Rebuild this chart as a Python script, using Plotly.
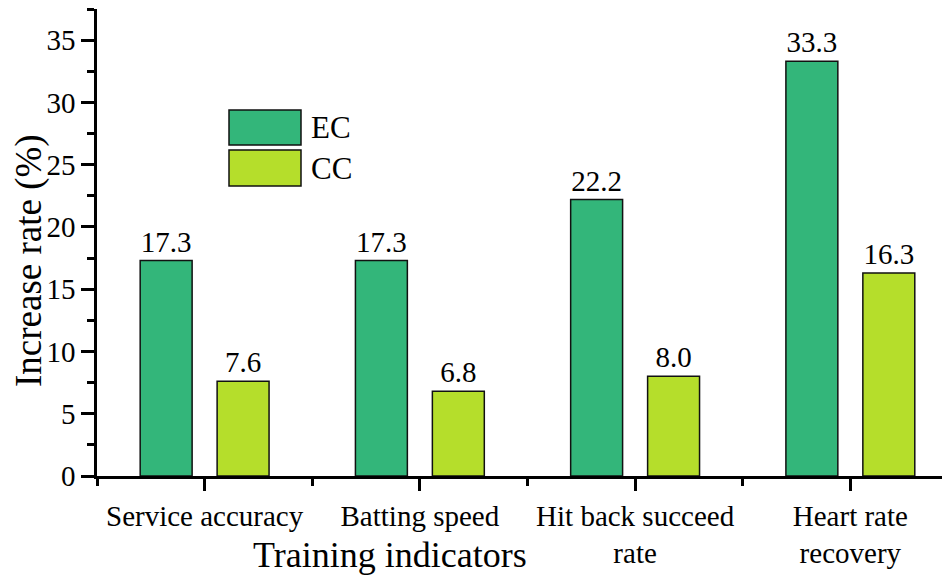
import plotly.graph_objects as go

categories = ["Service accuracy", "Batting speed", "Hit back succeed<br>rate", "Heart rate<br>recovery"]
ec_values = [17.3, 17.3, 22.2, 33.3]
cc_values = [7.6, 6.8, 8.0, 16.3]
series_names = ["EC", "CC"]
colors = ["#33B67A", "#B5DE2B"]
y_ticks = [0, 5, 10, 15, 20, 25, 30, 35]

FONT = "Liberation Serif"
x_pos = list(range(len(categories)))

# the page body adds an 8px offset, so the figure is 8px smaller on each axis
W, H = 942, 569
L, T, B = 89, 1, 101
PW, PH = W - L, H - T - B  # 853 x 467

fig = go.Figure()
for name, vals, col in zip(series_names, [ec_values, cc_values], colors):
    fig.add_trace(go.Bar(
        x=x_pos, y=vals, name=name,
        marker=dict(color=col, line=dict(color="#111111", width=1.5)),
        text=[f"{v:.1f}" for v in vals], textposition="outside",
        textfont=dict(family=FONT, size=29, color="black"),
        cliponaxis=False, showlegend=False,
    ))

fig.update_layout(
    width=W, height=H,
    margin=dict(l=L, r=0, t=T, b=B, autoexpand=False),
    paper_bgcolor="white", plot_bgcolor="white",
    barmode="group", bargap=0.285, bargroupgap=0.325,
    font=dict(family=FONT, size=29, color="black"),
)

fig.update_xaxes(
    range=[-0.5, 3.463], tickmode="array", tickvals=x_pos, ticktext=categories,
    automargin=False,
    showline=True, linecolor="black", linewidth=2.5,
    ticks="outside", ticklen=12, tickwidth=2.5, tickcolor="black",
    tickfont=dict(family=FONT, size=29),
    minor=dict(tickvals=[-0.5, 0.5, 1.5, 2.5, 3.5], ticks="outside", ticklen=7, tickwidth=2.5, tickcolor="black"),
    showgrid=False, zeroline=False,
)
fig.update_yaxes(
    range=[0, 37.5], tickmode="array", tickvals=y_ticks,
    automargin=False,
    showline=True, linecolor="black", linewidth=2.5,
    ticks="outside", ticklen=13, tickwidth=2.5, tickcolor="black",
    tickfont=dict(family=FONT, size=29),
    minor=dict(dtick=2.5, tick0=0, ticks="outside", ticklen=7, tickwidth=2.5, tickcolor="black"),
    showgrid=False, zeroline=False,
)

# y axis title (slightly below centre as in the reference)
fig.add_annotation(text="Increase rate (%)", xref="paper", yref="paper",
                   x=(29 - 97) / PW, y=(476 - 261) / PH, xanchor="center", yanchor="middle",
                   textangle=-90, showarrow=False, font=dict(family=FONT, size=37))

# x axis title (offset left as in the reference)
fig.add_annotation(text="Training indicators", xref="paper", yref="paper",
                   x=(390 - 97) / PW, y=-(555 - 476) / PH, xanchor="center", yanchor="middle",
                   showarrow=False, font=dict(family=FONT, size=36))

# custom legend
leg_boxes = [(110, 145), (150, 186)]
for (top, bot), name, col in zip(leg_boxes, series_names, colors):
    fig.add_shape(type="rect", xref="paper", yref="paper",
                  x0=(229 - 97) / PW, x1=(301 - 97) / PW,
                  y0=(476 - bot) / PH, y1=(476 - top) / PH,
                  fillcolor=col, line=dict(color="#111111", width=1.5))
    fig.add_annotation(text=name, xref="paper", yref="paper",
                       x=(309 - 97) / PW, y=(476 - (top + bot) / 2) / PH,
                       xanchor="left", yanchor="middle", showarrow=False,
                       font=dict(family=FONT, size=31))

fig.write_html("out.html")
